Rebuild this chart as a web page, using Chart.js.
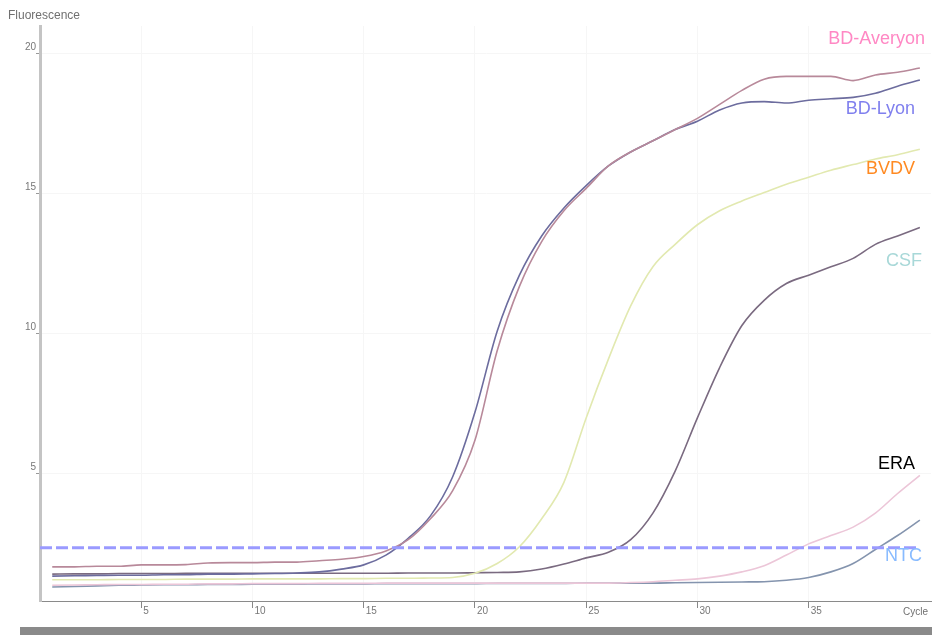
<!DOCTYPE html>
<html>
<head>
<meta charset="utf-8">
<script src="https://cdn.jsdelivr.net/npm/chart.js@4/dist/chart.umd.min.js"></script>
<style>
  html, body { margin: 0; padding: 0; background: #ffffff; }
  #wrap { position: relative; width: 932px; height: 635px; overflow: hidden; }
  #bar { position: absolute; left: 20px; top: 627px; width: 912px; height: 8px; background: #8a8a8a; }
  canvas { position: absolute; left: 0; top: 0; }
</style>
</head>
<body>
<div id="wrap">
  <canvas id="c" width="932" height="635"></canvas>
  <div id="bar"></div>
</div>
<script>
// ---- data ----
const cycles = [1,2,3,4,5,6,7,8,9,10,11,12,13,14,15,16,17,18,19,20,21,22,23,24,25,26,27,28,29,30,31,32,33,34,35,36,37,38,39,40];

const seriesNames = ['BD-Averyon', 'BD-Lyon', 'BVDV', 'CSF', 'ERA', 'NTC'];

const bdAveyron = [1.68,1.68,1.70,1.70,1.75,1.75,1.76,1.82,1.83,1.83,1.85,1.85,1.90,1.95,2.05,2.25,2.65,3.40,4.40,6.20,9.40,11.70,13.30,14.40,15.20,16.00,16.50,16.90,17.30,17.70,18.20,18.70,19.10,19.20,19.20,19.20,19.05,19.25,19.35,19.50];
const bdLyon    = [1.35,1.36,1.37,1.38,1.38,1.40,1.40,1.42,1.42,1.43,1.44,1.46,1.50,1.60,1.75,2.10,2.70,3.50,4.90,7.20,10.10,12.10,13.50,14.50,15.30,16.00,16.50,16.90,17.30,17.60,18.00,18.25,18.30,18.25,18.35,18.40,18.45,18.60,18.85,19.07];
const bvdv      = [1.22,1.22,1.22,1.23,1.23,1.23,1.24,1.24,1.24,1.25,1.25,1.25,1.25,1.26,1.26,1.27,1.27,1.28,1.30,1.45,1.80,2.40,3.40,4.70,7.00,9.10,11.00,12.40,13.20,13.90,14.40,14.75,15.05,15.35,15.60,15.85,16.05,16.25,16.40,16.60];
const csf       = [1.42,1.43,1.43,1.44,1.44,1.44,1.45,1.45,1.45,1.45,1.45,1.45,1.45,1.45,1.45,1.45,1.46,1.46,1.46,1.47,1.48,1.50,1.60,1.78,2.00,2.20,2.65,3.60,5.10,7.00,8.80,10.30,11.20,11.80,12.10,12.40,12.70,13.20,13.50,13.80];
const era       = [1.02,1.03,1.04,1.05,1.05,1.06,1.06,1.07,1.07,1.08,1.08,1.08,1.09,1.09,1.09,1.10,1.10,1.10,1.10,1.10,1.10,1.10,1.10,1.10,1.10,1.10,1.12,1.15,1.20,1.25,1.35,1.50,1.72,2.10,2.50,2.80,3.10,3.60,4.30,4.95];
const ntc       = [0.96,0.98,1.00,1.02,1.03,1.04,1.04,1.05,1.05,1.06,1.06,1.06,1.07,1.07,1.07,1.08,1.08,1.08,1.08,1.08,1.09,1.09,1.09,1.09,1.10,1.10,1.10,1.10,1.11,1.12,1.13,1.14,1.15,1.20,1.30,1.50,1.80,2.30,2.80,3.35];

const thresholdValue = 2.36;
const thresholdCycles = [0.45, 40];

const xTickValues = [5,10,15,20,25,30,35];
const yTickValues = [5,10,15,20];

// ---- styling ----
const lineColors  = ['#b8899a', '#6c6c9e', '#e2e9b0', '#7a6a80', '#ecc6d8', '#8494ae'];
const labelColors = ['#ff88c4', '#8080ee', '#ff8a22', '#a8d8d8', '#000000', '#88bbff'];

const allSeries = [bdAveyron, bdLyon, bvdv, csf, era, ntc];

const datasets = allSeries.map((vals, i) => ({
  label: seriesNames[i],
  data: cycles.map((c, j) => ({ x: c, y: vals[j] })),
  borderColor: lineColors[i],
  borderWidth: 1.6,
  pointRadius: 0,
  fill: false,
  cubicInterpolationMode: 'monotone'
}));

datasets.unshift({
  label: 'threshold',
  data: thresholdCycles.map(c => ({ x: c, y: thresholdValue })),
  borderColor: '#9a9aff',
  borderWidth: 3,
  borderDash: [12, 4],
  pointRadius: 0,
  fill: false
});

// label placement (right aligned x, middle y in pixels)
const labelPlacement = [
  { x: 925, y: 39 },
  { x: 915, y: 109 },
  { x: 915, y: 169 },
  { x: 922, y: 261 },
  { x: 915, y: 464 },
  { x: 922, y: 556 }
];

const textPlugin = {
  id: 'texts',
  afterDraw(chart) {
    const ctx = chart.ctx;
    ctx.save();
    ctx.textBaseline = 'middle';
    ctx.font = '12px "Liberation Sans", Arial, sans-serif';
    ctx.fillStyle = '#707070';
    ctx.textAlign = 'left';
    ctx.fillText('Fluorescence', 8, 16);
    ctx.font = '10px "Liberation Sans", Arial, sans-serif';
    ctx.fillText('Cycle', 903, 612);
    ctx.font = '18px "Liberation Sans", Arial, sans-serif';
    ctx.textAlign = 'right';
    seriesNames.forEach((n, i) => {
      ctx.fillStyle = labelColors[i];
      ctx.fillText(n, labelPlacement[i].x, labelPlacement[i].y);
    });
    ctx.restore();
  }
};

new Chart(document.getElementById('c'), {
  type: 'line',
  data: { datasets },
  options: {
    responsive: false,
    animation: false,
    devicePixelRatio: 1,
    layout: { padding: { top: 26, right: 1, left: 0, bottom: 0 } },
    plugins: { legend: { display: false }, tooltip: { enabled: false }, title: { display: false } },
    scales: {
      x: {
        type: 'linear',
        min: 0.45,
        max: 40.5,
        afterFit: s => { s.height = 34; },
        afterBuildTicks: s => { s.ticks = xTickValues.map(v => ({ value: v })); },
        grid: { color: '#f6f6f6', tickColor: '#888', tickLength: 7, drawOnChartArea: true },
        border: { color: '#8a8a8a', width: 1 },
        ticks: {
          align: 'start',
          labelOffset: 2,
          padding: -3,
          maxRotation: 0,
          color: '#777',
          font: { family: '"Liberation Sans", Arial, sans-serif', size: 10 }
        }
      },
      y: {
        type: 'linear',
        min: 0.46,
        max: 21,
        afterFit: s => { s.width = 40; },
        afterBuildTicks: s => { s.ticks = yTickValues.map(v => ({ value: v })); },
        grid: { color: '#f6f6f6', tickColor: '#999', tickLength: 4, drawOnChartArea: true },
        border: { color: '#c4c4c4', width: 3 },
        ticks: {
          labelOffset: -7,
          padding: 0,
          color: '#777',
          font: { family: '"Liberation Sans", Arial, sans-serif', size: 10 }
        }
      }
    }
  },
  plugins: [textPlugin]
});
</script>
</body>
</html>
